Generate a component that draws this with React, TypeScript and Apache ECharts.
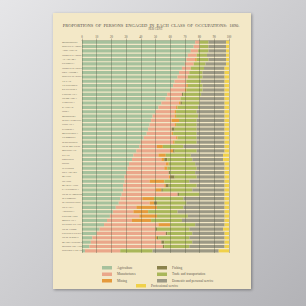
import React, { useEffect, useRef } from "react";
import * as echarts from "echarts";

// States and territories, ordered by share engaged in agriculture
const states = [
  "MISSISSIPPI", "SOUTH CAROLINA", "ARKANSAS", "NORTH CAROLINA", "ALABAMA", "GEORGIA",
  "NORTH DAKOTA", "OKLAHOMA", "SOUTH DAKOTA", "TEXAS", "TENNESSEE", "KENTUCKY",
  "LOUISIANA", "NEBRASKA", "VIRGINIA", "KANSAS", "IOWA", "MISSOURI", "WEST VIRGINIA",
  "INDIANA", "FLORIDA", "MINNESOTA", "VERMONT", "WISCONSIN", "NEW MEXICO", "MICHIGAN",
  "UTAH", "OREGON", "OHIO", "ILLINOIS", "DELAWARE", "MAINE", "IDAHO", "MARYLAND",
  "CALIFORNIA", "NEW HAMPSHIRE", "WYOMING", "WASHINGTON", "NEVADA", "ARIZONA",
  "COLORADO", "MONTANA", "PENNSYLVANIA", "NEW YORK", "CONNECTICUT", "NEW JERSEY",
  "MASSACHUSETTS", "RHODE ISLAND", "DISTRICT OF COLUMBIA",
];

// Per cent of persons engaged in each class of occupations
const agriculture = [77, 76, 74, 72, 71, 70, 68, 66, 65, 63, 62, 60, 58, 57, 54, 52, 50, 48, 47, 46, 45, 44, 42, 40, 39, 37, 35, 34, 32, 31, 30, 29, 29, 28, 28, 27, 26, 25, 23, 21, 19, 17, 15, 12, 10, 7, 6, 5, 2];
const manufactures = [3, 4, 5, 6, 6, 6, 6, 7, 7, 8, 9, 10, 10, 10, 12, 12, 13, 15, 14, 17, 16, 17, 22, 22, 12, 23, 17, 20, 25, 25, 29, 30, 17, 28, 22, 38, 15, 21, 14, 14, 20, 17, 37, 38, 47, 43, 48, 50, 24];
const mining = [0, 0, 0, 0, 1, 0, 0, 0, 0, 0, 1, 1, 0, 0, 1, 1, 1, 1, 5, 1, 0, 1, 1, 1, 4, 2, 5, 2, 2, 2, 0, 1, 10, 1, 4, 0, 8, 3, 14, 10, 12, 13, 8, 0, 0, 1, 0, 0, 0];
const fishing = [0, 0, 0, 0, 0, 0, 0, 0, 0, 0, 0, 0, 1, 0, 1, 0, 0, 0, 0, 0, 2, 0, 0, 0, 0, 1, 0, 2, 0, 0, 1, 3, 0, 2, 1, 1, 0, 2, 0, 0, 0, 0, 0, 1, 1, 1, 2, 1, 0];
const trade = [6, 6, 7, 7, 8, 8, 9, 9, 10, 10, 10, 11, 12, 13, 12, 14, 14, 15, 12, 14, 15, 16, 13, 15, 14, 15, 17, 17, 18, 20, 17, 15, 17, 19, 20, 14, 20, 20, 18, 20, 21, 21, 17, 22, 17, 21, 19, 17, 22];
const domestic = [12, 12, 12, 13, 12, 14, 14, 15, 15, 16, 15, 15, 16, 17, 17, 18, 19, 18, 19, 19, 19, 19, 19, 19, 28, 19, 22, 21, 20, 19, 20, 19, 24, 19, 22, 17, 28, 26, 28, 32, 25, 29, 20, 23, 22, 24, 22, 24, 45];
const professional = [2, 2, 2, 2, 2, 2, 3, 3, 3, 3, 3, 3, 3, 3, 3, 3, 3, 3, 3, 3, 3, 3, 3, 3, 3, 3, 4, 4, 3, 3, 3, 3, 3, 3, 3, 3, 3, 3, 3, 3, 3, 3, 3, 4, 3, 3, 3, 3, 7];

const percentTicks = [0, 10, 20, 30, 40, 50, 60, 70, 80, 90, 100];

const classes = [
  { name: "Agriculture", values: agriculture, color: "#a6c19c" },
  { name: "Manufactures", values: manufactures, color: "#eaa78a" },
  { name: "Mining", values: mining, color: "#e59a3c" },
  { name: "Fishing", values: fishing, color: "#8a824c" },
  { name: "Trade and transportation", values: trade, color: "#a9b75a" },
  { name: "Domestic and personal service", values: domestic, color: "#9c9985" },
  { name: "Professional service", values: professional, color: "#f0d14a" },
];

const PAPER = "#f3e8c7";
const INK = "#5f5a4f";
const FONT = "'Liberation Serif', 'DejaVu Serif', serif";

export default function App() {
  const ref = useRef<HTMLDivElement>(null);

  useEffect(() => {
    if (!ref.current) return;
    const chart = echarts.init(ref.current, undefined, { renderer: "svg" });

    const series: any[] = classes.map((c, i) => ({
      name: c.name,
      type: "bar",
      stack: "total",
      barCategoryGap: "28%",
      itemStyle: { color: c.color },
      data: c.values,
      z: 2,
      ...(i === classes.length - 1
        ? {
            markLine: {
              silent: true,
              symbol: "none",
              label: { show: false },
              lineStyle: { color: "rgba(70,78,58,0.55)", width: 0.6, type: "solid" },
              data: percentTicks.map((t) => ({ xAxis: t })),
              z: 3,
            },
          }
        : {}),
    }));

    const legendText = { fontSize: 3.4, color: INK, fontFamily: FONT };

    chart.setOption({
      animation: false,
      backgroundColor: {
        type: "linear",
        x: 0,
        y: 0,
        x2: 1,
        y2: 1,
        colorStops: [
          { offset: 0, color: "#e6e6e8" },
          { offset: 1, color: "#b3b3b7" },
        ],
      },
      graphic: [
        {
          type: "rect",
          z: 0,
          shape: { x: 53, y: 13, width: 198, height: 276 },
          style: {
            fill: PAPER,
            shadowBlur: 3,
            shadowColor: "rgba(0,0,0,0.35)",
            shadowOffsetX: 1,
            shadowOffsetY: 1,
          },
        },
        {
          type: "text",
          z: 1,
          x: 151,
          y: 25,
          style: {
            text: "PROPORTIONS  OF  PERSONS  ENGAGED  IN  EACH  CLASS  OF  OCCUPATIONS:  1890.",
            fontSize: 4.5,
            fontFamily: FONT,
            fill: "#55514a",
            align: "center",
            verticalAlign: "middle",
          },
        },
      ],
      grid: { left: 82, right: 77, top: 40, bottom: 53 },
      xAxis: {
        type: "value",
        position: "top",
        min: 0,
        max: 100,
        interval: 10,
        name: "PER CENT",
        nameLocation: "middle",
        nameGap: 7,
        nameTextStyle: { fontSize: 3, color: INK, fontFamily: FONT },
        axisLine: { show: true, lineStyle: { color: "#8a8470", width: 0.5 } },
        axisTick: { show: true, length: 1.5, lineStyle: { color: "#8a8470", width: 0.5 } },
        axisLabel: { fontSize: 3, color: INK, margin: 2, fontFamily: FONT },
        splitLine: { show: false },
      },
      yAxis: {
        type: "category",
        inverse: true,
        data: states,
        axisLine: { show: false },
        axisTick: { show: false },
        axisLabel: {
          fontSize: 2.8,
          color: "#4f4b43",
          fontFamily: FONT,
          align: "left",
          margin: 20,
          interval: 0,
        },
      },
      legend: [
        {
          data: ["Agriculture", "Manufactures", "Mining"],
          orient: "vertical",
          left: 97,
          top: 261,
          itemWidth: 10,
          itemHeight: 3.5,
          itemGap: 3,
          icon: "rect",
          textStyle: legendText,
          selectedMode: false,
        },
        {
          data: ["Fishing", "Trade and transportation", "Domestic and personal service"],
          orient: "vertical",
          left: 152,
          top: 261,
          itemWidth: 10,
          itemHeight: 3.5,
          itemGap: 3,
          icon: "rect",
          textStyle: legendText,
          selectedMode: false,
        },
        {
          data: ["Professional service"],
          orient: "vertical",
          left: 131,
          top: 279,
          itemWidth: 10,
          itemHeight: 3.5,
          icon: "rect",
          textStyle: legendText,
          selectedMode: false,
        },
      ],
      series,
    });

    return () => chart.dispose();
  }, []);

  return (
    <div
      ref={ref}
      style={{ position: "fixed", left: 0, top: 0, width: 306, height: 306 }}
    />
  );
}
